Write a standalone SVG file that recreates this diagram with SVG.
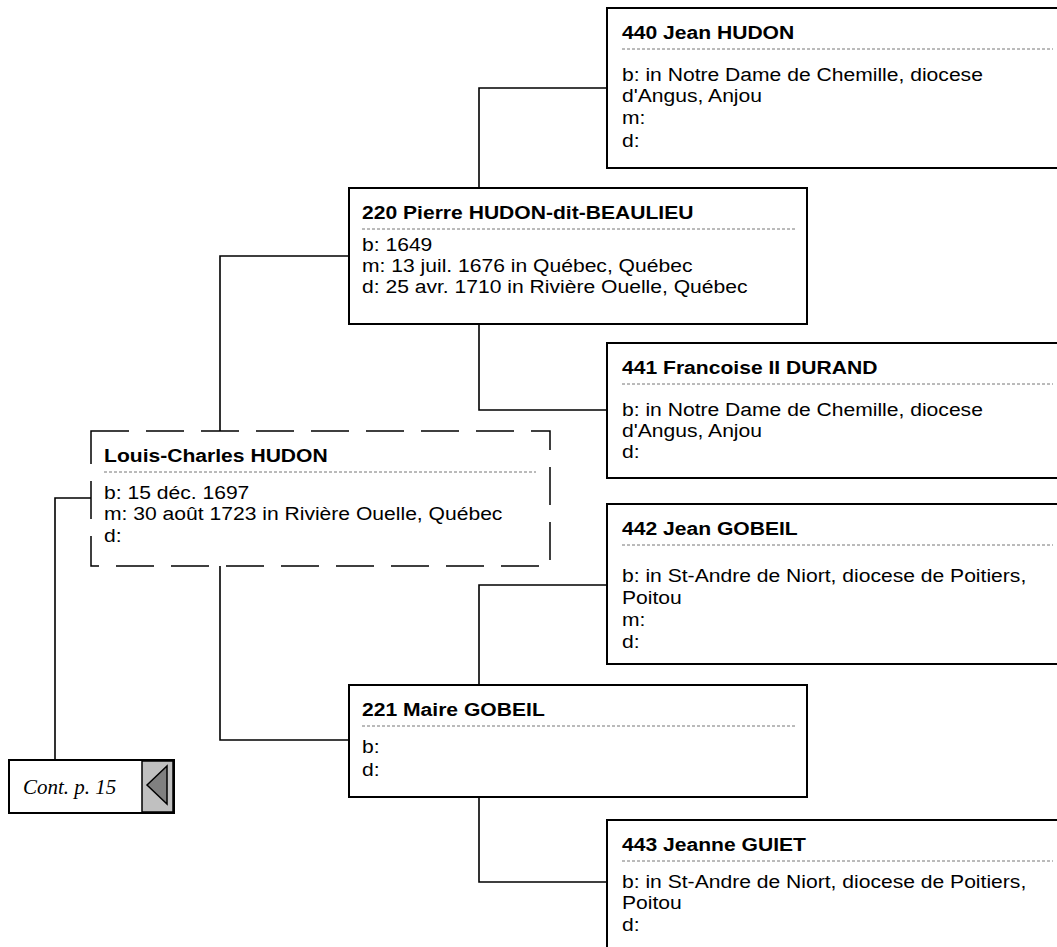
<svg xmlns="http://www.w3.org/2000/svg" width="1057" height="947" viewBox="0 0 1057 947">
<style>
.box{fill:#fff;stroke:#000;stroke-width:2}
.dbox{fill:#fff;stroke:#000;stroke-width:1.5;stroke-dasharray:38 17}
.sep{stroke:#777;stroke-width:1;stroke-dasharray:3 2}
.conn{fill:none;stroke:#000;stroke-width:1.6}
.t{font-family:"Liberation Sans",Arial,sans-serif;font-size:19px;fill:#000}
.b{font-weight:bold}
.cont{font-family:"Liberation Serif","Times New Roman",serif;font-style:italic;font-size:20px;fill:#000}
</style>
<rect width="1057" height="947" fill="#fff"/>
<g id="connectors">
<path class="conn" d="M479,188 V88 H607"/>
<path class="conn" d="M479,324 V410 H607"/>
<path class="conn" d="M220,431 V256 H349"/>
<path class="conn" d="M220,566 V740 H349"/>
<path class="conn" d="M479,685 V585 H607"/>
<path class="conn" d="M479,797 V882 H607"/>
<path class="conn" d="M91,498 H55 V760"/>
</g>
<g id="n440">
<rect class="box" x="607" y="8" width="470" height="160"/>
<line class="sep" x1="622" y1="49" x2="1053" y2="49"/>
<g class="t" transform="translate(622,0) scale(1.11,1)">
<text class="b" x="0" y="39">440 Jean HUDON</text>
<text x="0" y="81">b: in Notre Dame de Chemille, diocese</text>
<text x="0" y="102">d'Angus, Anjou</text>
<text x="0" y="124">m:</text>
<text x="0" y="147">d:</text>
</g>
</g>
<g id="n220">
<rect class="box" x="349" y="188" width="458" height="136"/>
<line class="sep" x1="362" y1="229" x2="796" y2="229"/>
<g class="t" transform="translate(362,0) scale(1.11,1)">
<text class="b" x="0" y="219">220 Pierre HUDON-dit-BEAULIEU</text>
<text x="0" y="251">b: 1649</text>
<text x="0" y="272">m: 13 juil. 1676 in Québec, Québec</text>
<text x="0" y="293">d: 25 avr. 1710 in Rivière Ouelle, Québec</text>
</g>
</g>
<g id="n441">
<rect class="box" x="607" y="343" width="470" height="135"/>
<line class="sep" x1="622" y1="384" x2="1053" y2="384"/>
<g class="t" transform="translate(622,0) scale(1.11,1)">
<text class="b" x="0" y="374">441 Francoise II DURAND</text>
<text x="0" y="416">b: in Notre Dame de Chemille, diocese</text>
<text x="0" y="437">d'Angus, Anjou</text>
<text x="0" y="458">d:</text>
</g>
</g>
<g id="n_louis">
<rect class="dbox" x="91" y="431" width="459" height="135"/>
<line class="sep" x1="104" y1="472" x2="536" y2="472"/>
<g class="t" transform="translate(104,0) scale(1.11,1)">
<text class="b" x="0" y="462">Louis-Charles HUDON</text>
<text x="0" y="499">b: 15 déc. 1697</text>
<text x="0" y="520">m: 30 août 1723 in Rivière Ouelle, Québec</text>
<text x="0" y="542">d:</text>
</g>
</g>
<g id="n442">
<rect class="box" x="607" y="504" width="470" height="160"/>
<line class="sep" x1="622" y1="545" x2="1053" y2="545"/>
<g class="t" transform="translate(622,0) scale(1.11,1)">
<text class="b" x="0" y="535">442 Jean GOBEIL</text>
<text x="0" y="582">b: in St-Andre de Niort, diocese de Poitiers,</text>
<text x="0" y="604">Poitou</text>
<text x="0" y="626">m:</text>
<text x="0" y="648">d:</text>
</g>
</g>
<g id="n221">
<rect class="box" x="349" y="685" width="458" height="112"/>
<line class="sep" x1="362" y1="726" x2="796" y2="726"/>
<g class="t" transform="translate(362,0) scale(1.11,1)">
<text class="b" x="0" y="716">221 Maire GOBEIL</text>
<text x="0" y="753">b:</text>
<text x="0" y="776">d:</text>
</g>
</g>
<g id="n443">
<rect class="box" x="607" y="820" width="470" height="160"/>
<line class="sep" x1="622" y1="861" x2="1053" y2="861"/>
<g class="t" transform="translate(622,0) scale(1.11,1)">
<text class="b" x="0" y="851">443 Jeanne GUIET</text>
<text x="0" y="888">b: in St-Andre de Niort, diocese de Poitiers,</text>
<text x="0" y="909">Poitou</text>
<text x="0" y="931">d:</text>
</g>
</g>
<g id="cont">
<rect class="box" x="9" y="760" width="165" height="53"/>
<rect x="142" y="761" width="31" height="51" fill="#c0c0c0" stroke="#000" stroke-width="1.5"/>
<polygon points="147,785 167,766 167,804" fill="#808080" stroke="#000" stroke-width="1.5"/>
<text class="cont" transform="translate(23,794) scale(1.05,1)" x="0" y="0">Cont. p. 15</text>
</g>
</svg>
